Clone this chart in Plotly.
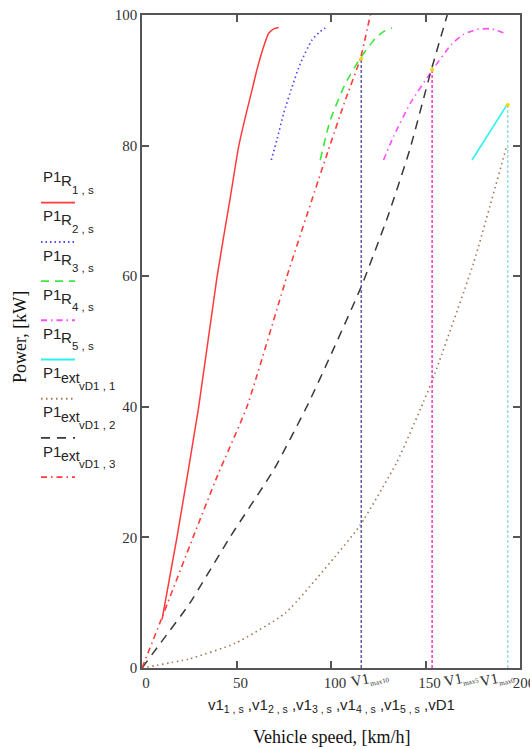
import plotly.graph_objects as go

# ---- data ----
v_R1 = [10.6, 18.5, 30, 39.7, 46.8, 51.1, 54.7, 58.2, 60.8, 64.3, 67, 70, 72.3]
P_R1 = [7.4, 20, 40, 59.9, 72.2, 79.8, 84.4, 88.5, 91.6, 95.1, 97.2, 97.9, 98.1]

v_R2 = [68.4, 71.4, 74.9, 79.4, 83.8, 90, 94, 97]
P_R2 = [77.8, 80.9, 84.9, 89, 92.6, 96.2, 97.4, 98]

v_R3 = [94.3, 99.6, 107.6, 115.5, 123.4, 128, 132.3]
P_R3 = [77.8, 83.9, 89.5, 93.4, 96.4, 97.5, 98]

v_R4 = [127.8, 133.1, 142, 152.5, 164, 170, 177.2, 184.3, 188, 192.2]
P_R4 = [77.8, 81.4, 86.5, 91.1, 95.6, 97, 97.8, 97.9, 97.6, 97.2]

v_R5 = [174.6, 193]
P_R5 = [77.8, 86.2]

v_ext1 = [0, 25, 49.4, 75.8, 102, 115.5, 135, 149, 154.3, 175.4, 193]
P_ext1 = [0, 1.4, 3.8, 8.4, 17, 21.9, 31.6, 40.8, 44.6, 62, 80]

v_ext2 = [0, 10, 25, 46.7, 70, 88, 100, 116, 130, 141.6, 152.5, 161.5]
P_ext2 = [0, 3.9, 9.8, 20.1, 30.5, 40.5, 48, 58.4, 69.1, 79.3, 91, 100]

v_ext3 = [0, 10, 27, 40, 55.5, 76.7, 93.3, 98.6, 107, 115.5, 120.8]
P_ext3 = [0, 7.3, 20, 29.5, 40, 60, 74.7, 79.3, 86.5, 93.3, 100]

v_max = [116, 153.5, 193.5]
P_max = [93.3, 91.6, 86.2]
v_max_names = ["V1", "V1", "V1"]
v_max_subs = ["max10", "max5", "max0"]

x_ticks = [0, 50, 100, 150, 200]
y_ticks = [0, 20, 40, 60, 80, 100]

legend_main = ["P1"] * 8
legend_sub1 = ["R", "R", "R", "R", "R", "ext", "ext", "ext"]
legend_sub2 = ["1 , s", "2 , s", "3 , s", "4 , s", "5 , s", "vD1 , 1", "vD1 , 2", "vD1 , 3"]

# ---- styles ----
series = [
    (v_R1, P_R1, "#ff3b3b", "solid", 1.5),
    (v_R2, P_R2, "#4a4aff", "1.5px,3px", 1.7),
    (v_R3, P_R3, "#3de83d", "8px,6px", 1.6),
    (v_R4, P_R4, "#ff4dff", "6px,4px,1.5px,4px", 1.6),
    (v_R5, P_R5, "#2ef0f0", "solid", 1.6),
    (v_ext1, P_ext1, "#a07850", "1.5px,3.5px", 1.6),
    (v_ext2, P_ext2, "#383838", "9px,7px", 1.5),
    (v_ext3, P_ext3, "#ff3b3b", "6px,4px,1.5px,4px", 1.6),
]
vline_colors = ["#5c5cae", "#ff33cc", "#9ad8e8"]
vlabel_shift = [-13, 9, -30]

fig = go.Figure()
for (vx, py, col, dash, w) in series:
    fig.add_trace(go.Scatter(x=vx, y=py, mode="lines",
                             line=dict(color=col, dash=dash, width=w, shape="spline", smoothing=0.5),
                             showlegend=False, hoverinfo="skip"))

for i in range(len(v_max)):
    fig.add_trace(go.Scatter(x=[v_max[i], v_max[i]], y=[0, P_max[i]], mode="lines",
                             line=dict(color=vline_colors[i], dash="3px,2px", width=1.5),
                             showlegend=False, hoverinfo="skip"))
fig.add_trace(go.Scatter(x=v_max, y=P_max, mode="markers",
                         marker=dict(color="#f5d800", size=4),
                         showlegend=False, hoverinfo="skip"))

# plot geometry (pixels)
L, R, T, B = 142, 10, 15, 81
W, H = 530, 749
plot_h = H - T - B
plot_w = W - L - R

def py2paper(py):
    return (H - B - py) / plot_h

def px2paper(px):
    return (px - L) / plot_w

SANS = "Liberation Sans, Arial"
SERIF = "Liberation Serif, Times New Roman"

annotations = []
shapes = []
for i in range(len(legend_main)):
    ly = 202.7 + 39.2 * i
    col, dash, w = series[i][2], series[i][3], series[i][4]
    ext = legend_sub1[i] == "ext"
    annotations.append(dict(text=legend_main[i], xref="paper", yref="paper",
                            x=px2paper(42), y=py2paper(ly - 26), xanchor="left", yanchor="middle",
                            borderpad=0,
                            showarrow=False, font=dict(family=SANS, size=15, color="#222")))
    annotations.append(dict(text=legend_sub1[i], xref="paper", yref="paper",
                            x=px2paper(60), y=py2paper(ly - (21 if ext else 22)), xanchor="left", yanchor="middle",
                            borderpad=0,
                            showarrow=False, font=dict(family=SANS, size=14 if ext else 15, color="#222")))
    annotations.append(dict(text=legend_sub2[i], xref="paper", yref="paper",
                            x=px2paper(78 if ext else 71), y=py2paper(ly - 13), xanchor="left", yanchor="middle",
                            borderpad=0,
                            showarrow=False, font=dict(family=SANS, size=11.5, color="#222")))
    shapes.append(dict(type="line", xref="paper", yref="paper",
                       x0=px2paper(41), x1=px2paper(75), y0=py2paper(ly), y1=py2paper(ly),
                       line=dict(color=col, dash=dash, width=w + 0.3)))

for i in range(len(v_max)):
    annotations.append(dict(text=v_max_names[i] + "<sub><span style='font-size:7px'>" + v_max_subs[i] + "</span></sub>",
                            xref="x", yref="paper",
                            x=v_max[i], y=py2paper(679), xanchor="left", yanchor="middle",
                            xshift=vlabel_shift[i], borderpad=0,
                            showarrow=False, textangle=-12,
                            font=dict(family=SERIF, size=15, color="#333")))

annotations.append(dict(text="v1<sub>1 , s</sub> ,v1<sub>2 , s</sub> ,v1<sub>3 , s</sub> ,v1<sub>4 , s</sub> ,v1<sub>5 , s</sub> ,vD1",
                        xref="paper", yref="paper", x=0.5, y=py2paper(705), xanchor="center", yanchor="middle",
                        showarrow=False, font=dict(family=SANS, size=15, color="#222")))
annotations.append(dict(text="Vehicle speed, [km/h]", xref="paper", yref="paper",
                        x=0.5, y=py2paper(737), xanchor="center", yanchor="middle",
                        showarrow=False, font=dict(family=SERIF, size=18, color="#111")))
annotations.append(dict(text="Power, [kW]", xref="paper", yref="paper",
                        x=px2paper(20), y=py2paper(337), xanchor="center", yanchor="middle",
                        textangle=-90,
                        showarrow=False, font=dict(family=SERIF, size=18, color="#111")))

axis_common = dict(showline=True, linecolor="#555", linewidth=1.5, mirror="ticks",
                   ticks="inside", ticklen=7, tickcolor="#555", tickwidth=1.5,
                   showgrid=False, zeroline=False, automargin=False,
                   ticklabeloverflow="allow",
                   tickfont=dict(family=SERIF, size=15, color="#333"))

fig.update_layout(
    template="none",
    width=W, height=H, autosize=False,
    margin=dict(l=L, r=R, t=T, b=B, pad=0),
    paper_bgcolor="white", plot_bgcolor="white",
    xaxis=dict(range=[0, 200], tickvals=x_ticks, ticktext=[str(t) for t in x_ticks],
               ticklabelshift=4, **axis_common),
    yaxis=dict(range=[0, 100], tickvals=y_ticks, ticktext=[str(t) for t in y_ticks], **axis_common),
    annotations=annotations, shapes=shapes,
)

fig.write_html("out.html", config={"responsive": False, "displayModeBar": False},
               post_script="document.body.style.margin='0';document.body.style.overflow='hidden';")
